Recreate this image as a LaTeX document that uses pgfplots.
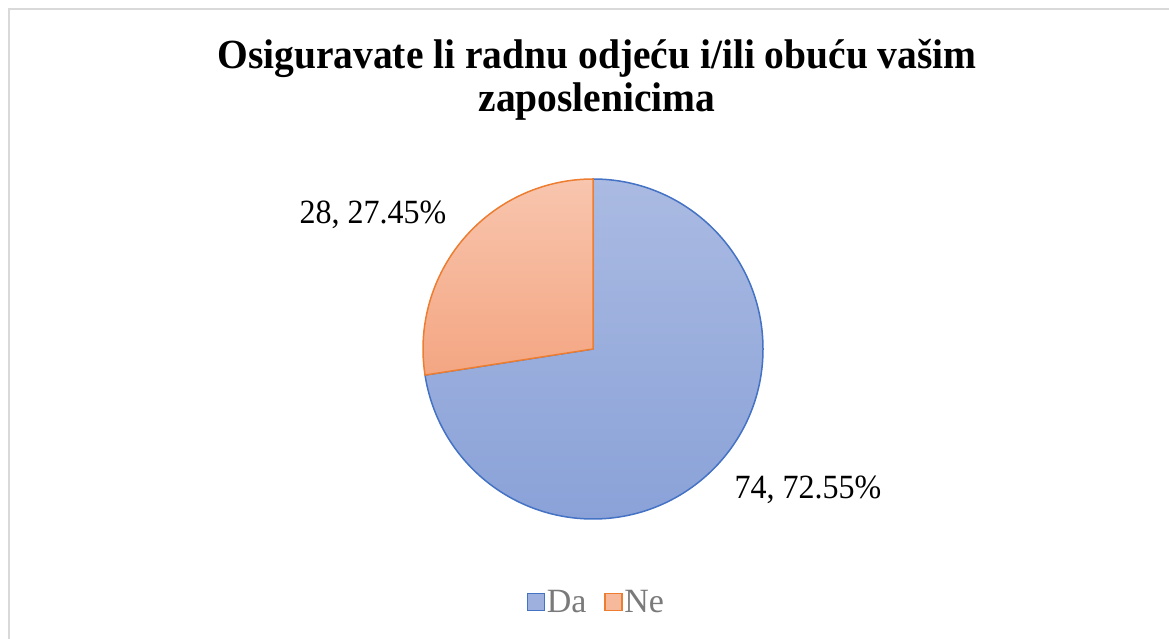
\documentclass[border=0pt]{standalone}
\usepackage{pgfplots}
\pgfplotsset{compat=1.18}
\usepackage{pgfplotstable}
\usepackage{fontspec}
\setmainfont{Liberation Serif}

\definecolor{daedge}{HTML}{4472C4}
\definecolor{datop}{HTML}{AABAE2}
\definecolor{dabot}{HTML}{8AA2D8}
\definecolor{needge}{HTML}{ED7D31}
\definecolor{netop}{HTML}{F8C5AE}
\definecolor{nebot}{HTML}{F4A682}
\definecolor{framegray}{HTML}{D9D9D9}
\definecolor{legtext}{HTML}{7A7A7A}

\pgfplotstableread{
label value
Da 74
Ne 28
}\piedata

\pgfplotstablegetelem{0}{value}\of\piedata \let\vDa\pgfplotsretval
\pgfplotstablegetelem{1}{value}\of\piedata \let\vNe\pgfplotsretval
\pgfmathsetmacro\total{\vDa+\vNe}
\pgfmathsetmacro\angDa{\vDa/\total*360}
\pgfmathsetmacro\endDa{90-\angDa}
\pgfmathsetmacro\pDa{\vDa/\total*100}
\pgfmathsetmacro\pNe{\vNe/\total*100}

\pgfplotsset{
  sqlegend/.style={legend image code/.code={\draw[##1] (0pt,-8.5pt) rectangle (17pt,8.5pt);}},
}
\pgfkeys{/pgf/number format/assume math mode=true}

\begin{document}
\begin{tikzpicture}
\begin{axis}[
  x=1pt, y=1pt,
  xmin=0, xmax=1169, ymin=0, ymax=639,
  hide axis,
  clip=false,
  legend style={at={(axis cs:596,37)}, anchor=center, draw=none, fill=none,
    legend columns=2, font=\fontsize{34}{36}\selectfont\color{legtext},
    /tikz/every even column/.append style={column sep=16pt},
    nodes={inner sep=1.5pt},
    inner sep=0pt},
]
\path (axis cs:0,0) rectangle (axis cs:1169,639);
\begin{scope}
\clip (axis cs:0,0) rectangle (axis cs:1169,639);
\draw[framegray, line width=2pt] (axis cs:9,-5) -- (axis cs:9,630) -- (axis cs:1180,630);
\end{scope}

% Da slice
\filldraw[top color=datop, bottom color=dabot, draw=daedge, line width=1.5pt, line join=round]
  (axis cs:593,290) -- +(90:170pt) arc[start angle=90, end angle=\endDa, radius=170pt] -- cycle;
% Ne slice
\filldraw[top color=netop, bottom color=nebot, draw=needge, line width=1.5pt, line join=round]
  (axis cs:593,290) -- +(\endDa:170pt) arc[start angle=\endDa, end angle=-270, radius=170pt] -- cycle;

\node[font=\fontsize{32}{34}\selectfont, yscale=1.06] at (axis cs:373,424)
  {\vNe, \pgfmathprintnumber[fixed,fixed zerofill,precision=2]{\pNe}\%};
\node[font=\fontsize{32}{34}\selectfont, yscale=1.06] at (axis cs:808,149)
  {\vDa, \pgfmathprintnumber[fixed,fixed zerofill,precision=2]{\pDa}\%};

\node[align=center, font=\fontsize{39.5}{41}\selectfont\bfseries, yscale=1.05] at (axis cs:597,559)
  {Osiguravate li radnu odjeću i/ili obuću vašim\\zaposlenicima};

\addlegendimage{sqlegend, draw=daedge, fill=datop!60!dabot, line width=1.8pt}
\addlegendentry{Da}
\addlegendimage{sqlegend, draw=needge, fill=netop!60!nebot, line width=1.8pt}
\addlegendentry{Ne}
\end{axis}
\end{tikzpicture}
\end{document}
